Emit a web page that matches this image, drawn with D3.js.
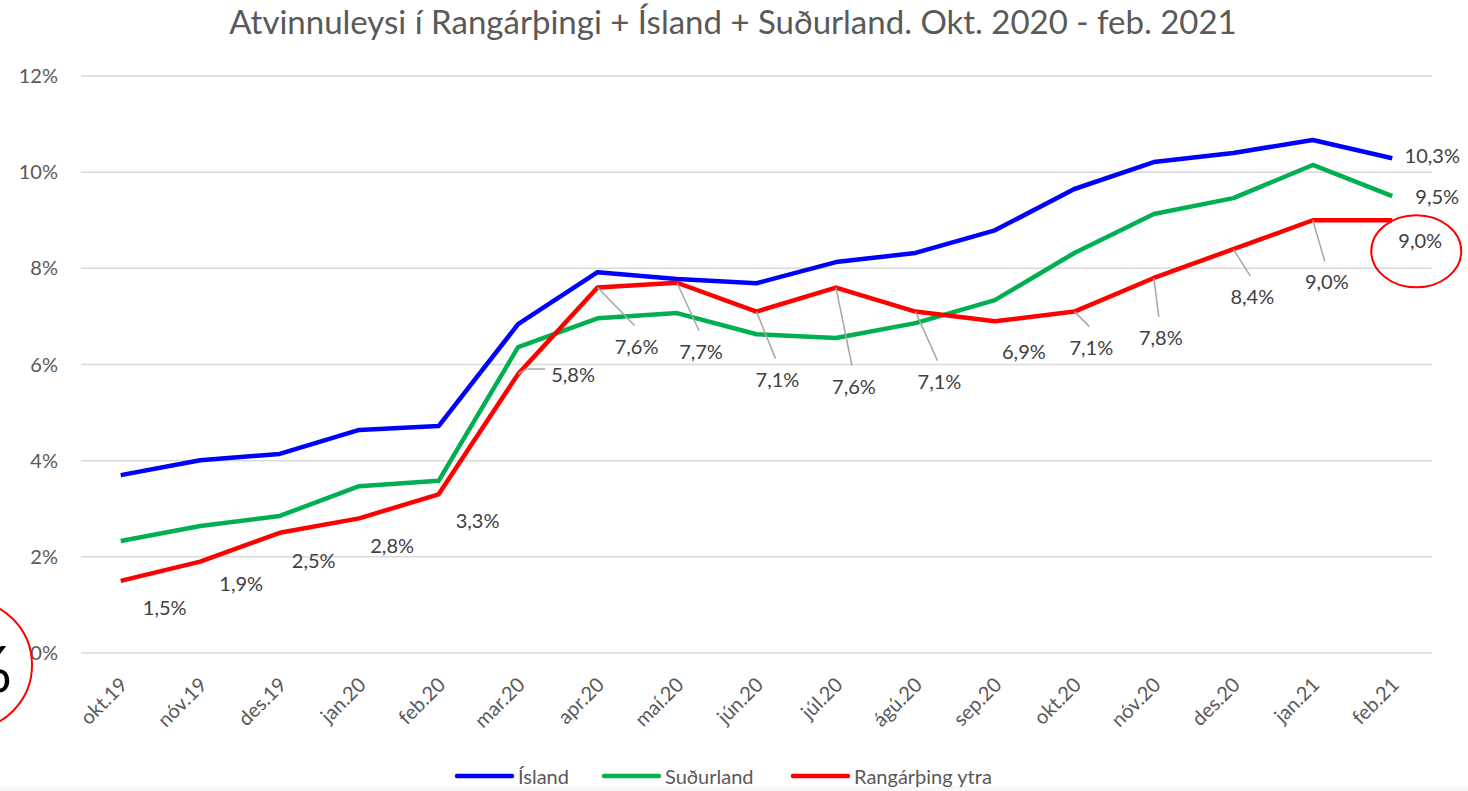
<!DOCTYPE html>
<html>
<head>
<meta charset="utf-8">
<script src="https://cdn.jsdelivr.net/npm/d3@7"></script>
<style>
  body { margin: 0; background: #fff; }
  svg { display: block; }
  text { font-family: "Lato", "Open Sans", sans-serif; }
</style>
</head>
<body>
<div id="chart"></div>
<script>
var months = ["okt.19", "nóv.19", "des.19", "jan.20", "feb.20", "mar.20", "apr.20", "maí.20", "jún.20",
    "júl.20", "ágú.20", "sep.20", "okt.20", "nóv.20", "des.20", "jan.21", "feb.21"];
var island = [3.70, 4.01, 4.14, 4.64, 4.72, 6.84, 7.92, 7.78, 7.69, 8.13, 8.32, 8.79, 9.65, 10.21, 10.40, 10.67, 10.29];
var sudurland = [2.33, 2.64, 2.85, 3.47, 3.58, 6.36, 6.96, 7.07, 6.63, 6.55, 6.86, 7.34, 8.32, 9.13, 9.46, 10.15, 9.50];
var rangar = [1.5, 1.9, 2.5, 2.8, 3.3, 5.8, 7.6, 7.7, 7.1, 7.6, 7.1, 6.9, 7.1, 7.8, 8.4, 9.0, 9.0];
var yTicks = [0, 2, 4, 6, 8, 10, 12];
var seriesNames = ["Ísland", "Suðurland", "Rangárþing ytra"];

// label placement for the red series (pixels from the point), leader: 0 none, 1 below, 2 left
var labelOffsets = [[44, 27, 0], [41, 22, 0], [34, 28, 0], [33, 28, 0], [39, 27, 0], [55, 1, 2],
    [39, 59, 1], [24, 69, 1], [21, 68, 1], [18, 99, 1], [24, 70, 1], [29, 31, 0], [17, 36, 1],
    [7, 60, 1], [19, 48, 1], [14, 62, 1], [28, 21, 0]];

var W = 1468, H = 791;
var colors = ["#0000ff", "#00b050", "#ff0000"];
var fmt = function (v) { return d3.format(".1f")(v).replace(".", ",") + "%"; };

var svg = d3.select("#chart").append("svg")
    .attr("width", W)
    .attr("height", H);

svg.append("rect")
    .attr("x", 0).attr("y", 786).attr("width", W).attr("height", 5)
    .style("fill", "#f6f8f8");

var x = d3.scaleBand().domain(months).range([81, 1432]);
var y = d3.scaleLinear().domain([0, 12]).range([653, 76]);
var cx = function (d) { return x(d) + x.bandwidth() / 2; };

// title
svg.append("text")
    .attr("x", 733).attr("y", 34)
    .attr("text-anchor", "middle")
    .style("font-size", "33px")
    .style("fill", "#595959")
    .text("Atvinnuleysi í Rangárþingi + Ísland + Suðurland. Okt. 2020 - feb. 2021");

// grid + y labels
svg.selectAll(".grid")
    .data(yTicks)
    .enter().append("line")
    .attr("x1", 81).attr("x2", 1432)
    .attr("y1", function (d) { return y(d); })
    .attr("y2", function (d) { return y(d); })
    .style("stroke", "#d9d9d9")
    .style("stroke-width", 1.5);

svg.selectAll(".ylab")
    .data(yTicks)
    .enter().append("text")
    .attr("x", 58)
    .attr("y", function (d) { return y(d) + 7; })
    .attr("text-anchor", "end")
    .style("font-size", "20px")
    .style("fill", "#595959")
    .text(function (d) { return d + "%"; });

// x labels
svg.selectAll(".xlab")
    .data(months)
    .enter().append("text")
    .attr("text-anchor", "end")
    .attr("transform", function (d) { return "translate(" + (cx(d) + 8) + ",686) rotate(-45)"; })
    .style("font-size", "20px")
    .style("fill", "#595959")
    .text(function (d) { return d; });

// lines
var line = d3.line()
    .x(function (d, i) { return cx(months[i]); })
    .y(function (d) { return y(d); });

[island, sudurland, rangar].forEach(function (s, k) {
    svg.append("path")
        .datum(s)
        .attr("d", line)
        .style("fill", "none")
        .style("stroke", colors[k])
        .style("stroke-width", 4.5)
        .style("stroke-linejoin", "round");
});

// leader lines + labels for red series
var lab = svg.append("g");
rangar.forEach(function (v, i) {
    var px = cx(months[i]), py = y(v);
    var o = labelOffsets[i];
    var lx = px + o[0], ly = py + o[1];
    if (o[2] === 1) {
        lab.append("line")
            .attr("x1", px).attr("y1", py)
            .attr("x2", lx - 2).attr("y2", ly - 21)
            .style("stroke", "#a6a6a6").style("stroke-width", 1.5);
    } else if (o[2] === 2) {
        lab.append("polyline")
            .attr("points", px + "," + py + " " + (px + 8) + "," + (py - 5) + " " + (lx - 28) + "," + (ly - 6))
            .style("fill", "none")
            .style("stroke", "#a6a6a6").style("stroke-width", 1.5);
    }
    lab.append("text")
        .attr("x", lx).attr("y", ly + 7)
        .attr("text-anchor", "middle")
        .style("font-size", "20px")
        .style("fill", "#404040")
        .text(fmt(v));
});

// end labels for blue and green
var last = months.length - 1;
svg.append("text")
    .attr("x", cx(months[last]) + 40).attr("y", y(island[last]) + 5)
    .attr("text-anchor", "middle")
    .style("font-size", "20px").style("fill", "#404040")
    .text(fmt(island[last]));
svg.append("text")
    .attr("x", cx(months[last]) + 45).attr("y", y(sudurland[last]) + 8)
    .attr("text-anchor", "middle")
    .style("font-size", "20px").style("fill", "#404040")
    .text(fmt(sudurland[last]));

// red ellipse around the last label
svg.append("ellipse")
    .attr("cx", cx(months[last]) + 24).attr("cy", y(rangar[last]) + 31)
    .attr("rx", 45).attr("ry", 36)
    .style("fill", "none").style("stroke", "#ff0000").style("stroke-width", 2);

// cropped circle at the left edge
svg.append("text")
    .attr("x", 12).attr("y", 692)
    .attr("text-anchor", "end")
    .style("font-size", "64px")
    .style("fill", "#000")
    .text("%");
svg.append("circle")
    .attr("cx", -33).attr("cy", 665).attr("r", 65)
    .style("fill", "none").style("stroke", "#ff0000").style("stroke-width", 2);

// legend
var legendX = [457, 604, 793];
var lg = svg.selectAll(".legend")
    .data(seriesNames)
    .enter().append("g")
    .attr("transform", function (d, i) { return "translate(" + legendX[i] + ",776)"; });
lg.append("line")
    .attr("x1", 0).attr("x2", 55)
    .style("stroke", function (d, i) { return colors[i]; })
    .style("stroke-width", 4.5)
    .style("stroke-linecap", "round");
lg.append("text")
    .attr("x", 61).attr("y", 8)
    .style("font-size", "20px")
    .style("fill", "#595959")
    .text(function (d) { return d; });
</script>
</body>
</html>
